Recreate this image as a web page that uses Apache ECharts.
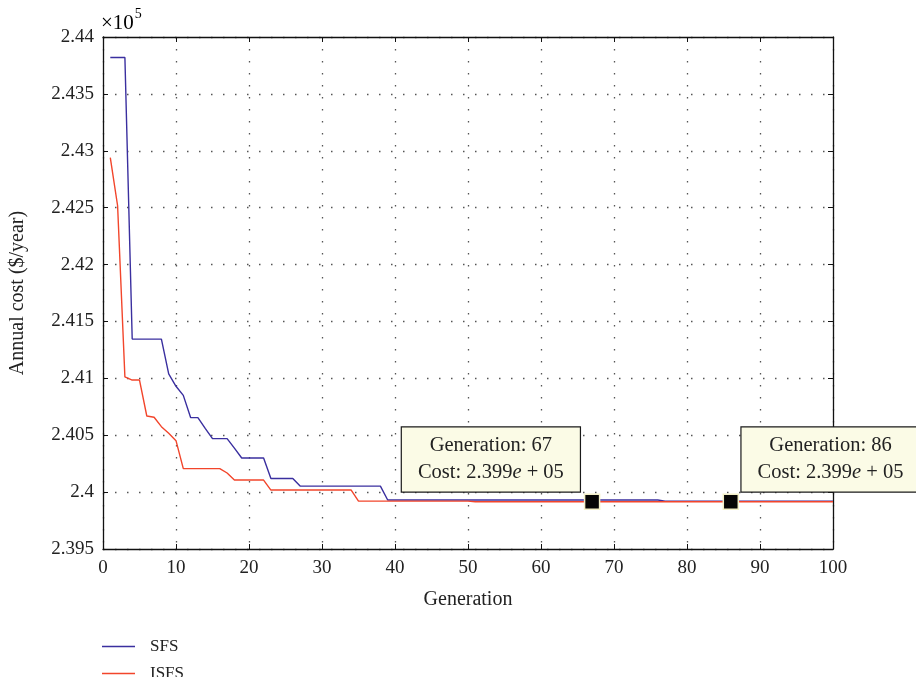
<!DOCTYPE html>
<html>
<head>
<meta charset="utf-8">
<script src="https://cdn.jsdelivr.net/npm/echarts@6/dist/echarts.min.js"></script>
<style>html,body{margin:0;padding:0;background:#fff}#c{width:916px;height:677px}</style>
</head>
<body>
<div id="c"></div>
<script>
// Generations 1..100
var generations = [];
for (var g = 1; g <= 100; g++) generations.push(g);

// Annual cost ($/year)
var sfs = [
  243820,243820,243820,241345,241345,241345,241345,241345,241040,240930,
  240850,240655,240655,240560,240470,240470,240470,240387,240300,240300,
  240300,240300,240120,240120,240120,240120,240053,240053,240053,240053,
  240053,240053,240053,240053,240053,240053,240053,240053,239931,239931,
  239931,239931,239931,239931,239931,239931,239931,239931,239931,239931,
  239931,239931,239931,239931,239931,239931,239931,239931,239931,239931,
  239931,239931,239931,239931,239931,239931,239931,239931,239931,239931,
  239931,239931,239931,239931,239931,239931,239921,239921,239921,239921,
  239921,239921,239921,239921,239921,239921,239921,239921,239921,239921,
  239921,239921,239921,239921,239921,239921,239921,239921,239921,239921
];
var isfs = [
  242940,242517,241012,240985,240985,240669,240658,240575,240517,240452,
  240206,240206,240206,240206,240206,240206,240168,240106,240106,240106,
  240106,240106,240018,240018,240018,240018,240018,240018,240018,240018,
  240018,240018,240018,240018,239921,239921,239921,239921,239921,239921,
  239921,239921,239921,239921,239921,239921,239921,239921,239921,239921,
  239915,239915,239915,239915,239915,239915,239915,239915,239915,239915,
  239915,239915,239915,239915,239915,239915,239915,239915,239915,239915,
  239915,239915,239915,239915,239915,239915,239915,239915,239915,239915,
  239915,239915,239915,239915,239915,239915,239915,239915,239915,239915,
  239915,239915,239915,239915,239915,239915,239915,239915,239915,239915
];
var seriesNames = ['SFS', 'ISFS'];
var seriesColors = ['#3a2f9f', '#f2452b'];
var annotations = [
  { gen: 67, text: 'Generation: 67', cost: '2.399', exp: '05', side: 'left' },
  { gen: 86, text: 'Generation: 86', cost: '2.399', exp: '05', side: 'right' }
];

var serif = '"Liberation Serif", "DejaVu Serif", serif';
function pairs(arr) { return generations.map(function (g, i) { return [g, arr[i]]; }); }

var markData = annotations.map(function (a) {
  var left = a.side === 'left';
  return {
    coord: [a.gen, isfs[a.gen - 1]],
    label: {
      show: true,
      position: left ? [-4, -2] : [19, -2],
      align: left ? 'right' : 'left',
      verticalAlign: 'bottom',
      backgroundColor: '#fbfbe6',
      borderColor: '#1a1a1a',
      borderWidth: 1.2,
      padding: [5, 16, 5, 16],
      formatter: '{c|' + a.text + '}\n{c|Cost: ' + a.cost + '}{i|e}{c| + ' + a.exp + '}',
      rich: {
        c: { fontFamily: serif, fontSize: 20.5, color: '#222', align: 'center', lineHeight: 27 },
        i: { fontFamily: serif, fontSize: 20.5, color: '#222', fontStyle: 'italic', align: 'center', lineHeight: 27 }
      }
    }
  };
});

var chart = echarts.init(document.getElementById('c'), null, { renderer: 'canvas' });
var tickStyle = { show: true, inside: true, length: 5, lineStyle: { color: '#111', width: 1 } };
var axisLine = { show: true, onZero: false, lineStyle: { color: '#111', width: 1.3 } };
var dotted = { show: true, lineStyle: { color: '#555', width: 1.3, type: [1.5, 10.5] } };

chart.setOption({
  animation: false,
  backgroundColor: '#fff',
  grid: { left: 102, right: 83, top: 37, bottom: 128, containLabel: false },
  graphic: [{
    type: 'text', left: 101, top: 7,
    style: {
      text: '{a|×10}{b|5}',
      rich: {
        a: { fontFamily: serif, fontSize: 21, color: '#222', verticalAlign: 'bottom', padding: [6, 0, 0, 0] },
        b: { fontFamily: serif, fontSize: 14, color: '#222', verticalAlign: 'top', padding: [0, 0, 0, 1] }
      }
    }
  }],
  legend: {
    orient: 'vertical', left: 102, top: 638, height: 60, padding: 0, itemGap: 10,
    itemWidth: 33, itemHeight: 1.6, icon: 'rect',
    textStyle: { fontFamily: serif, fontSize: 17, color: '#222', padding: [0, 0, 0, 10] },
    data: seriesNames
  },
  xAxis: [{
    type: 'value', min: 0, max: 100, interval: 10,
    name: 'Generation', nameLocation: 'middle', nameGap: 41,
    nameTextStyle: { fontFamily: serif, fontSize: 20, color: '#222' },
    axisLine: axisLine, axisTick: tickStyle,
    axisLabel: { fontFamily: serif, fontSize: 19, color: '#222', margin: 10 },
    splitLine: dotted
  }, {
    type: 'value', position: 'top', min: 0, max: 100, interval: 10,
    axisLine: axisLine, axisTick: tickStyle, axisLabel: { show: false }, splitLine: { show: false }
  }],
  yAxis: [{
    type: 'value', min: 239500, max: 244000, interval: 500,
    name: 'Annual cost ($/year)', nameLocation: 'middle', nameGap: 75,
    nameTextStyle: { fontFamily: serif, fontSize: 20, color: '#222' },
    axisLine: axisLine, axisTick: tickStyle,
    axisLabel: {
      fontFamily: serif, fontSize: 19, color: '#222', margin: 9,
      formatter: function (v) { return String(parseFloat((v / 1e5).toFixed(4))); }
    },
    splitLine: dotted
  }, {
    type: 'value', position: 'right', min: 239500, max: 244000, interval: 500,
    axisLine: axisLine, axisTick: tickStyle, axisLabel: { show: false }, splitLine: { show: false }
  }],
  series: [{
    name: seriesNames[0], type: 'line', data: pairs(sfs), symbol: 'none',
    lineStyle: { color: seriesColors[0], width: 1.4 }, itemStyle: { color: seriesColors[0] }
  }, {
    name: seriesNames[1], type: 'line', data: pairs(isfs), symbol: 'none',
    lineStyle: { color: seriesColors[1], width: 1.4 }, itemStyle: { color: seriesColors[1] },
    markPoint: {
      symbol: 'rect', symbolSize: 15,
      itemStyle: { color: '#050505', borderColor: '#f4f0c8', borderWidth: 1.5 },
      data: markData
    }
  }]
});
</script>
</body>
</html>
